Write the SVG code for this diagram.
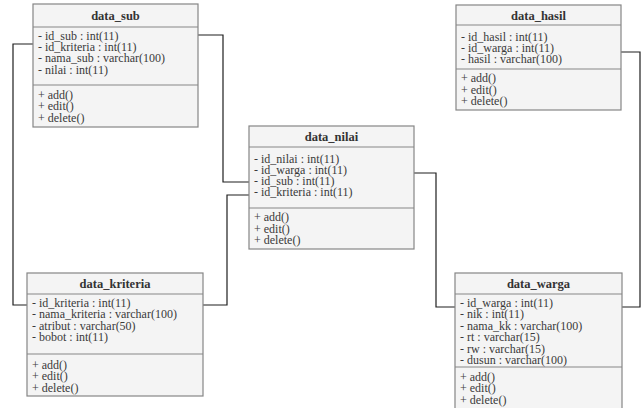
<svg xmlns="http://www.w3.org/2000/svg" width="642" height="408" viewBox="0 0 642 408">
  <style>
    .box { fill: #f4f4f4; stroke: #858585; stroke-width: 1.2; }
    .sep { stroke: #858585; stroke-width: 1.2; fill: none; }
    .title { font-family: "Liberation Serif", "Times New Roman", "DejaVu Serif", serif; font-size: 12.5px; font-weight: bold; fill: #333; text-anchor: middle; }
    .row { font-family: "Liberation Serif", "Times New Roman", "DejaVu Serif", serif; font-size: 12px; fill: #3a3a3a; }
    .link { fill: none; stroke: #1e1e1e; stroke-width: 1.2; }
  </style>
  <rect width="642" height="408" fill="#ffffff"/>

  <!-- relations between tables -->
  <g id="connectors">
    <polyline class="link" points="33,44 13,44 13,305 27,305"/>
    <polyline class="link" points="198,35 223,35 223,182 249,182"/>
    <polyline class="link" points="203,305 227,305 227,195 249,195"/>
    <polyline class="link" points="414,173 436,173 436,307 455,307"/>
    <polyline class="link" points="621,52 640,52 640,307 622,307"/>
  </g>

  <g id="data_sub">
    <rect class="box" x="33" y="4" width="165" height="123"/>
    <line class="sep" x1="33" y1="27" x2="198" y2="27"/>
    <line class="sep" x1="33" y1="85" x2="198" y2="85"/>
    <text class="title" x="115.5" y="20">data_sub</text>
    <text class="row" x="38" y="40">- id_sub : int(11)</text>
    <text class="row" x="38" y="51">- id_kriteria : int(11)</text>
    <text class="row" x="38" y="62">- nama_sub : varchar(100)</text>
    <text class="row" x="38" y="74">- nilai : int(11)</text>
    <text class="row" x="38" y="99">+ add()</text>
    <text class="row" x="38" y="110">+ edit()</text>
    <text class="row" x="38" y="122">+ delete()</text>
  </g>

  <g id="data_hasil">
    <rect class="box" x="456" y="5" width="165" height="105"/>
    <line class="sep" x1="456" y1="25" x2="621" y2="25"/>
    <line class="sep" x1="456" y1="69" x2="621" y2="69"/>
    <text class="title" x="538.5" y="20">data_hasil</text>
    <text class="row" x="461" y="41">- id_hasil : int(11)</text>
    <text class="row" x="461" y="52">- id_warga : int(11)</text>
    <text class="row" x="461" y="63">- hasil : varchar(100)</text>
    <text class="row" x="461" y="82">+ add()</text>
    <text class="row" x="461" y="94">+ edit()</text>
    <text class="row" x="461" y="105">+ delete()</text>
  </g>

  <g id="data_nilai">
    <rect class="box" x="249" y="126" width="165" height="123"/>
    <line class="sep" x1="249" y1="147" x2="414" y2="147"/>
    <line class="sep" x1="249" y1="208" x2="414" y2="208"/>
    <text class="title" x="331.5" y="141">data_nilai</text>
    <text class="row" x="254" y="163">- id_nilai : int(11)</text>
    <text class="row" x="254" y="174">- id_warga : int(11)</text>
    <text class="row" x="254" y="185">- id_sub : int(11)</text>
    <text class="row" x="254" y="196">- id_kriteria : int(11)</text>
    <text class="row" x="254" y="221">+ add()</text>
    <text class="row" x="254" y="233">+ edit()</text>
    <text class="row" x="254" y="244">+ delete()</text>
  </g>

  <g id="data_kriteria">
    <rect class="box" x="27" y="273" width="176" height="123"/>
    <line class="sep" x1="27" y1="294" x2="203" y2="294"/>
    <line class="sep" x1="27" y1="354" x2="203" y2="354"/>
    <text class="title" x="115" y="288">data_kriteria</text>
    <text class="row" x="32" y="307">- id_kriteria : int(11)</text>
    <text class="row" x="32" y="318">- nama_kriteria : varchar(100)</text>
    <text class="row" x="32" y="330">- atribut : varchar(50)</text>
    <text class="row" x="32" y="341">- bobot : int(11)</text>
    <text class="row" x="32" y="369">+ add()</text>
    <text class="row" x="32" y="380">+ edit()</text>
    <text class="row" x="32" y="392">+ delete()</text>
  </g>

  <g id="data_warga">
    <rect class="box" x="455" y="273" width="167" height="140"/>
    <line class="sep" x1="455" y1="294" x2="622" y2="294"/>
    <line class="sep" x1="455" y1="367" x2="622" y2="367"/>
    <text class="title" x="538.5" y="288">data_warga</text>
    <text class="row" x="460" y="307">- id_warga : int(11)</text>
    <text class="row" x="460" y="318">- nik : int(11)</text>
    <text class="row" x="460" y="330">- nama_kk : varchar(100)</text>
    <text class="row" x="460" y="341">- rt : varchar(15)</text>
    <text class="row" x="460" y="353">- rw : varchar(15)</text>
    <text class="row" x="460" y="364">- dusun : varchar(100)</text>
    <text class="row" x="460" y="381">+ add()</text>
    <text class="row" x="460" y="392">+ edit()</text>
    <text class="row" x="460" y="404">+ delete()</text>
  </g>
</svg>
